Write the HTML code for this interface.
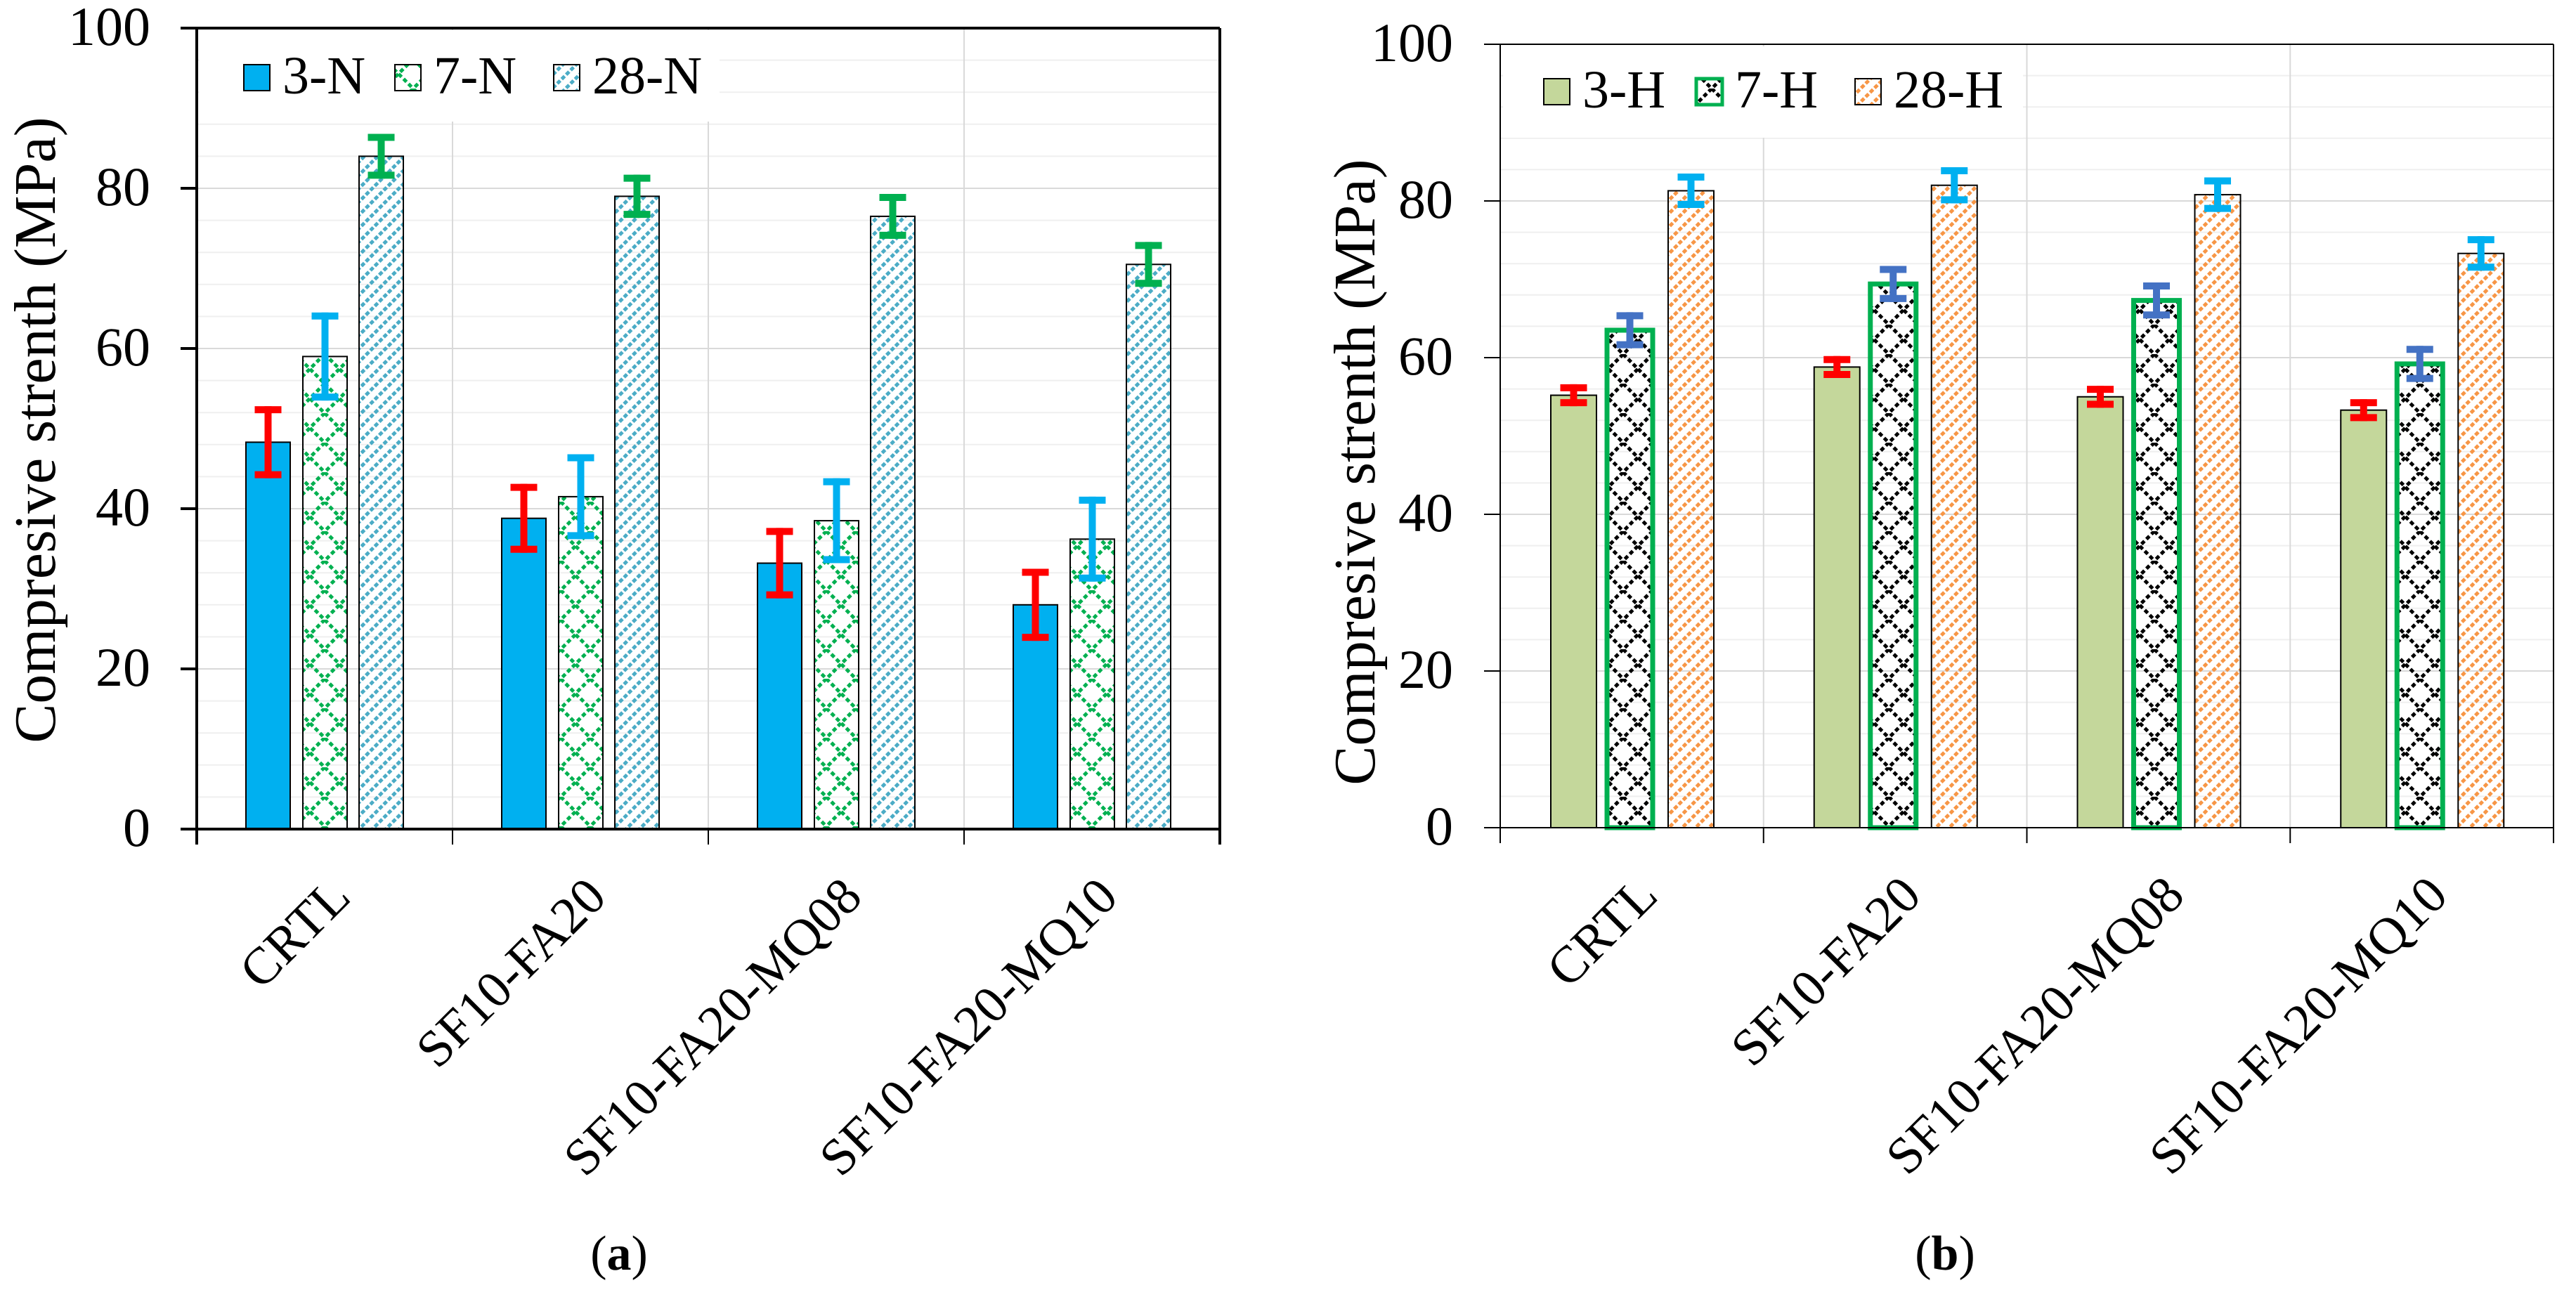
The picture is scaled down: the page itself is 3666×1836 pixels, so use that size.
<!DOCTYPE html>
<html><head><meta charset="utf-8"><style>
html,body{margin:0;padding:0;background:#fff;}
svg{display:block;}
text{font-family:"Liberation Serif","Times New Roman",serif;}
</style></head><body>
<svg id="fig" width="3666" height="1836" viewBox="0 0 3666 1836" xmlns="http://www.w3.org/2000/svg" font-family="Liberation Serif, serif">
<defs>
<pattern id="pGreenX" patternUnits="userSpaceOnUse" width="42" height="42">
<path d="M0,0 L42,42 M42,0 L0,42" stroke="#00b050" stroke-width="5" stroke-dasharray="6,4" fill="none"/>
</pattern>
<pattern id="pBlackX" patternUnits="userSpaceOnUse" width="42" height="42">
<path d="M0,0 L42,42 M42,0 L0,42" stroke="#000" stroke-width="5" stroke-dasharray="6,4" fill="none"/>
</pattern>
<pattern id="pBlueD" patternUnits="userSpaceOnUse" width="19" height="19">
<path d="M-5,24 L24,-5 M-5,5 L5,-5 M14,24 L24,14" stroke="#4bacc6" stroke-width="5" stroke-dasharray="6,3" fill="none"/>
</pattern>
<pattern id="pOrangeD" patternUnits="userSpaceOnUse" width="19" height="19">
<path d="M-5,24 L24,-5 M-5,5 L5,-5 M14,24 L24,14" stroke="#f79646" stroke-width="5" stroke-dasharray="6,3" fill="none"/>
</pattern>
</defs>
<g id="chartA"></g>
<g id="chartB"></g>
<text x="881" y="1807" font-size="70" text-anchor="middle" font-family="Liberation Serif, serif">(<tspan font-weight="bold">a</tspan>)</text>
<text x="2768" y="1807" font-size="70" text-anchor="middle" font-family="Liberation Serif, serif">(<tspan font-weight="bold">b</tspan>)</text>
</svg>
<script>
const categories = ["CRTL","SF10-FA20","SF10-FA20-MQ08","SF10-FA20-MQ10"];
const yTicks = [0,20,40,60,80,100];
const seriesA3 = [48.3,38.8,33.2,28.0];
const seriesA7 = [59.0,41.5,38.5,36.2];
const seriesA28 = [84.0,79.0,76.5,70.5];
const errA3 = [4.5,4.3,4.4,4.5];
const errA7 = [5.5,5.3,5.3,5.3];
const errA28 = [2.8,2.7,2.8,2.8];
const seriesB3 = [55.2,58.8,55.0,53.3];
const seriesB7 = [63.5,69.4,67.3,59.2];
const seriesB28 = [81.3,82.0,80.8,73.3];
const errB3 = [1.4,1.4,1.4,1.4];
const errB7 = [2.3,2.3,2.3,2.3];
const errB28 = [2.2,2.3,2.2,2.2];
const legendA = ["3-N","7-N","28-N"];
const legendB = ["3-H","7-H","28-H"];

const NS="http://www.w3.org/2000/svg";
const FF="Liberation Serif, serif";
function mk(tag, attrs, parent){const e=document.createElementNS(NS,tag);for(const k in attrs)e.setAttribute(k,attrs[k]);parent.appendChild(e);return e;}

function drawChart(g, cfg){
  const yS = v => cfg.y0 - (v/100)*(cfg.y0-cfg.y100);
  const cw = (cfg.x1-cfg.x0)/categories.length;
  for(let v=4; v<100; v+=4){
    const major = v%20===0;
    const l = mk('line',{x1:cfg.x0,x2:cfg.x1,y1:yS(v),y2:yS(v),stroke:major?'#d9d9d9':'#efefef','stroke-width':2},g);
    
    
  }
  for(let i=1;i<categories.length;i++){
    const l = mk('line',{x1:cfg.x0+i*cw,x2:cfg.x0+i*cw,y1:cfg.y100,y2:cfg.y0,stroke:'#d9d9d9','stroke-width':2},g);
    
    
  }
  const lb = mk('rect',{x:cfg.x0+4,y:cfg.y100+3,width:cfg.legW,height:cfg.legH,fill:'#fff'},g);
  
  
  cfg.series.forEach((s,si)=>{
    s.vals.forEach((v,ci)=>{
      const x = cfg.x0 + ci*cw + cfg.off[si];
      const y = yS(v);
      const r = mk('rect',{x:x,y:y,width:cfg.bw,height:cfg.y0-y,fill:s.fill,stroke:s.stroke,'stroke-width':s.sw},g);
      
      
    });
  });
  cfg.series.forEach((s,si)=>{
    s.vals.forEach((v,ci)=>{
      const cx = cfg.x0 + ci*cw + cfg.off[si] + cfg.bw/2;
      const e = s.err[ci];
      const eg = mk('g',{stroke:s.ec,'stroke-width':10},g);
      
      
      mk('line',{x1:cx,x2:cx,y1:yS(v+e),y2:yS(v-e)},eg);
      mk('line',{x1:cx-19,x2:cx+19,y1:yS(v+e)+5,y2:yS(v+e)+5},eg);
      mk('line',{x1:cx-19,x2:cx+19,y1:yS(v-e)-5,y2:yS(v-e)-5},eg);
    });
  });
  const ax = mk('g',{stroke:'#000','stroke-width':cfg.aw},g);
  
  
  mk('line',{x1:cfg.x0,x2:cfg.x0,y1:cfg.y100,y2:cfg.y0+22},ax);
  mk('line',{x1:cfg.x0-23,x2:cfg.x1,y1:cfg.y0,y2:cfg.y0},ax);
  mk('line',{x1:cfg.x0-23,x2:cfg.x1,y1:cfg.y100,y2:cfg.y100},ax);
  mk('line',{x1:cfg.x1,x2:cfg.x1,y1:cfg.y100,y2:cfg.y0+22,'stroke-width':cfg.aw},ax);
  for(let i=1;i<categories.length;i++) mk('line',{x1:cfg.x0+i*cw,x2:cfg.x0+i*cw,y1:cfg.y0,y2:cfg.y0+22,'stroke-width':2},ax);
  yTicks.forEach(v=>{
    mk('line',{x1:cfg.x0-23,x2:cfg.x0,y1:yS(v),y2:yS(v)},ax);
    const t = mk('text',{x:cfg.tickX,y:yS(v)+24,'font-size':78,'text-anchor':'end','font-family':FF},g);
    t.textContent = v;
    
    
  });
  categories.forEach((c,ci)=>{
    const ax2 = cfg.x0 + (ci+0.5)*cw + 40, ay = cfg.y0 + 100;
    const t = mk('text',{x:ax2,y:ay,'font-size':74,'text-anchor':'end','font-family':FF,transform:'rotate(-45 '+ax2+' '+ay+')'},g);
    t.textContent = c;
    
    
  });
  const yt = mk('text',{x:cfg.titleX,y:cfg.titleY,'font-size':84,'text-anchor':'middle','font-family':FF,transform:'rotate(-90 '+cfg.titleX+' '+cfg.titleY+')'},g);
  yt.textContent = 'Compresive strenth (MPa)';
  
  
  cfg.legend.forEach((name,i)=>{
    const s = cfg.series[i];
    const lx = cfg.legX[i], ly = cfg.legY;
    const lg = mk('g',{},g);
    
    
    mk('rect',{x:lx,y:ly,width:37,height:37,fill:s.fill,stroke:s.stroke,'stroke-width':s.sw===7?5:2},lg);
    const t = mk('text',{x:lx+55,y:ly+41,'font-size':76,'font-family':FF},lg);
    t.textContent = name;
  });
}

drawChart(document.getElementById('chartA'),{
  x0:280,x1:1736,y0:1180,y100:40,bw:63,off:[70,151,231],aw:4,tickX:214,
  titleX:78,titleY:612,legW:740,legH:130,legY:92,legX:[347,562,788],legend:legendA,
  series:[
    {name:'3-n',vals:seriesA3,err:errA3,fill:'#00b0f0',stroke:'#000',sw:2,ec:'#ff0000'},
    {name:'7-n',vals:seriesA7,err:errA7,fill:'url(#pGreenX)',stroke:'#000',sw:2,ec:'#00b0f0'},
    {name:'28-n',vals:seriesA28,err:errA28,fill:'url(#pBlueD)',stroke:'#000',sw:2,ec:'#00b050'}
  ]
});
drawChart(document.getElementById('chartB'),{
  x0:2135,x1:3634,y0:1178,y100:63,bw:65,off:[72,152,239],aw:2,tickX:2068,
  titleX:1956,titleY:672,legW:740,legH:130,legY:112,legX:[2197,2414,2640],legend:legendB,
  series:[
    {name:'3-h',vals:seriesB3,err:errB3,fill:'#c4d79b',stroke:'#000',sw:2,ec:'#ff0000'},
    {name:'7-h',vals:seriesB7,err:errB7,fill:'url(#pBlackX)',stroke:'#00b050',sw:7,ec:'#4472c4'},
    {name:'28-h',vals:seriesB28,err:errB28,fill:'url(#pOrangeD)',stroke:'#000',sw:2,ec:'#00b0f0'}
  ]
});
</script>
</body></html>
